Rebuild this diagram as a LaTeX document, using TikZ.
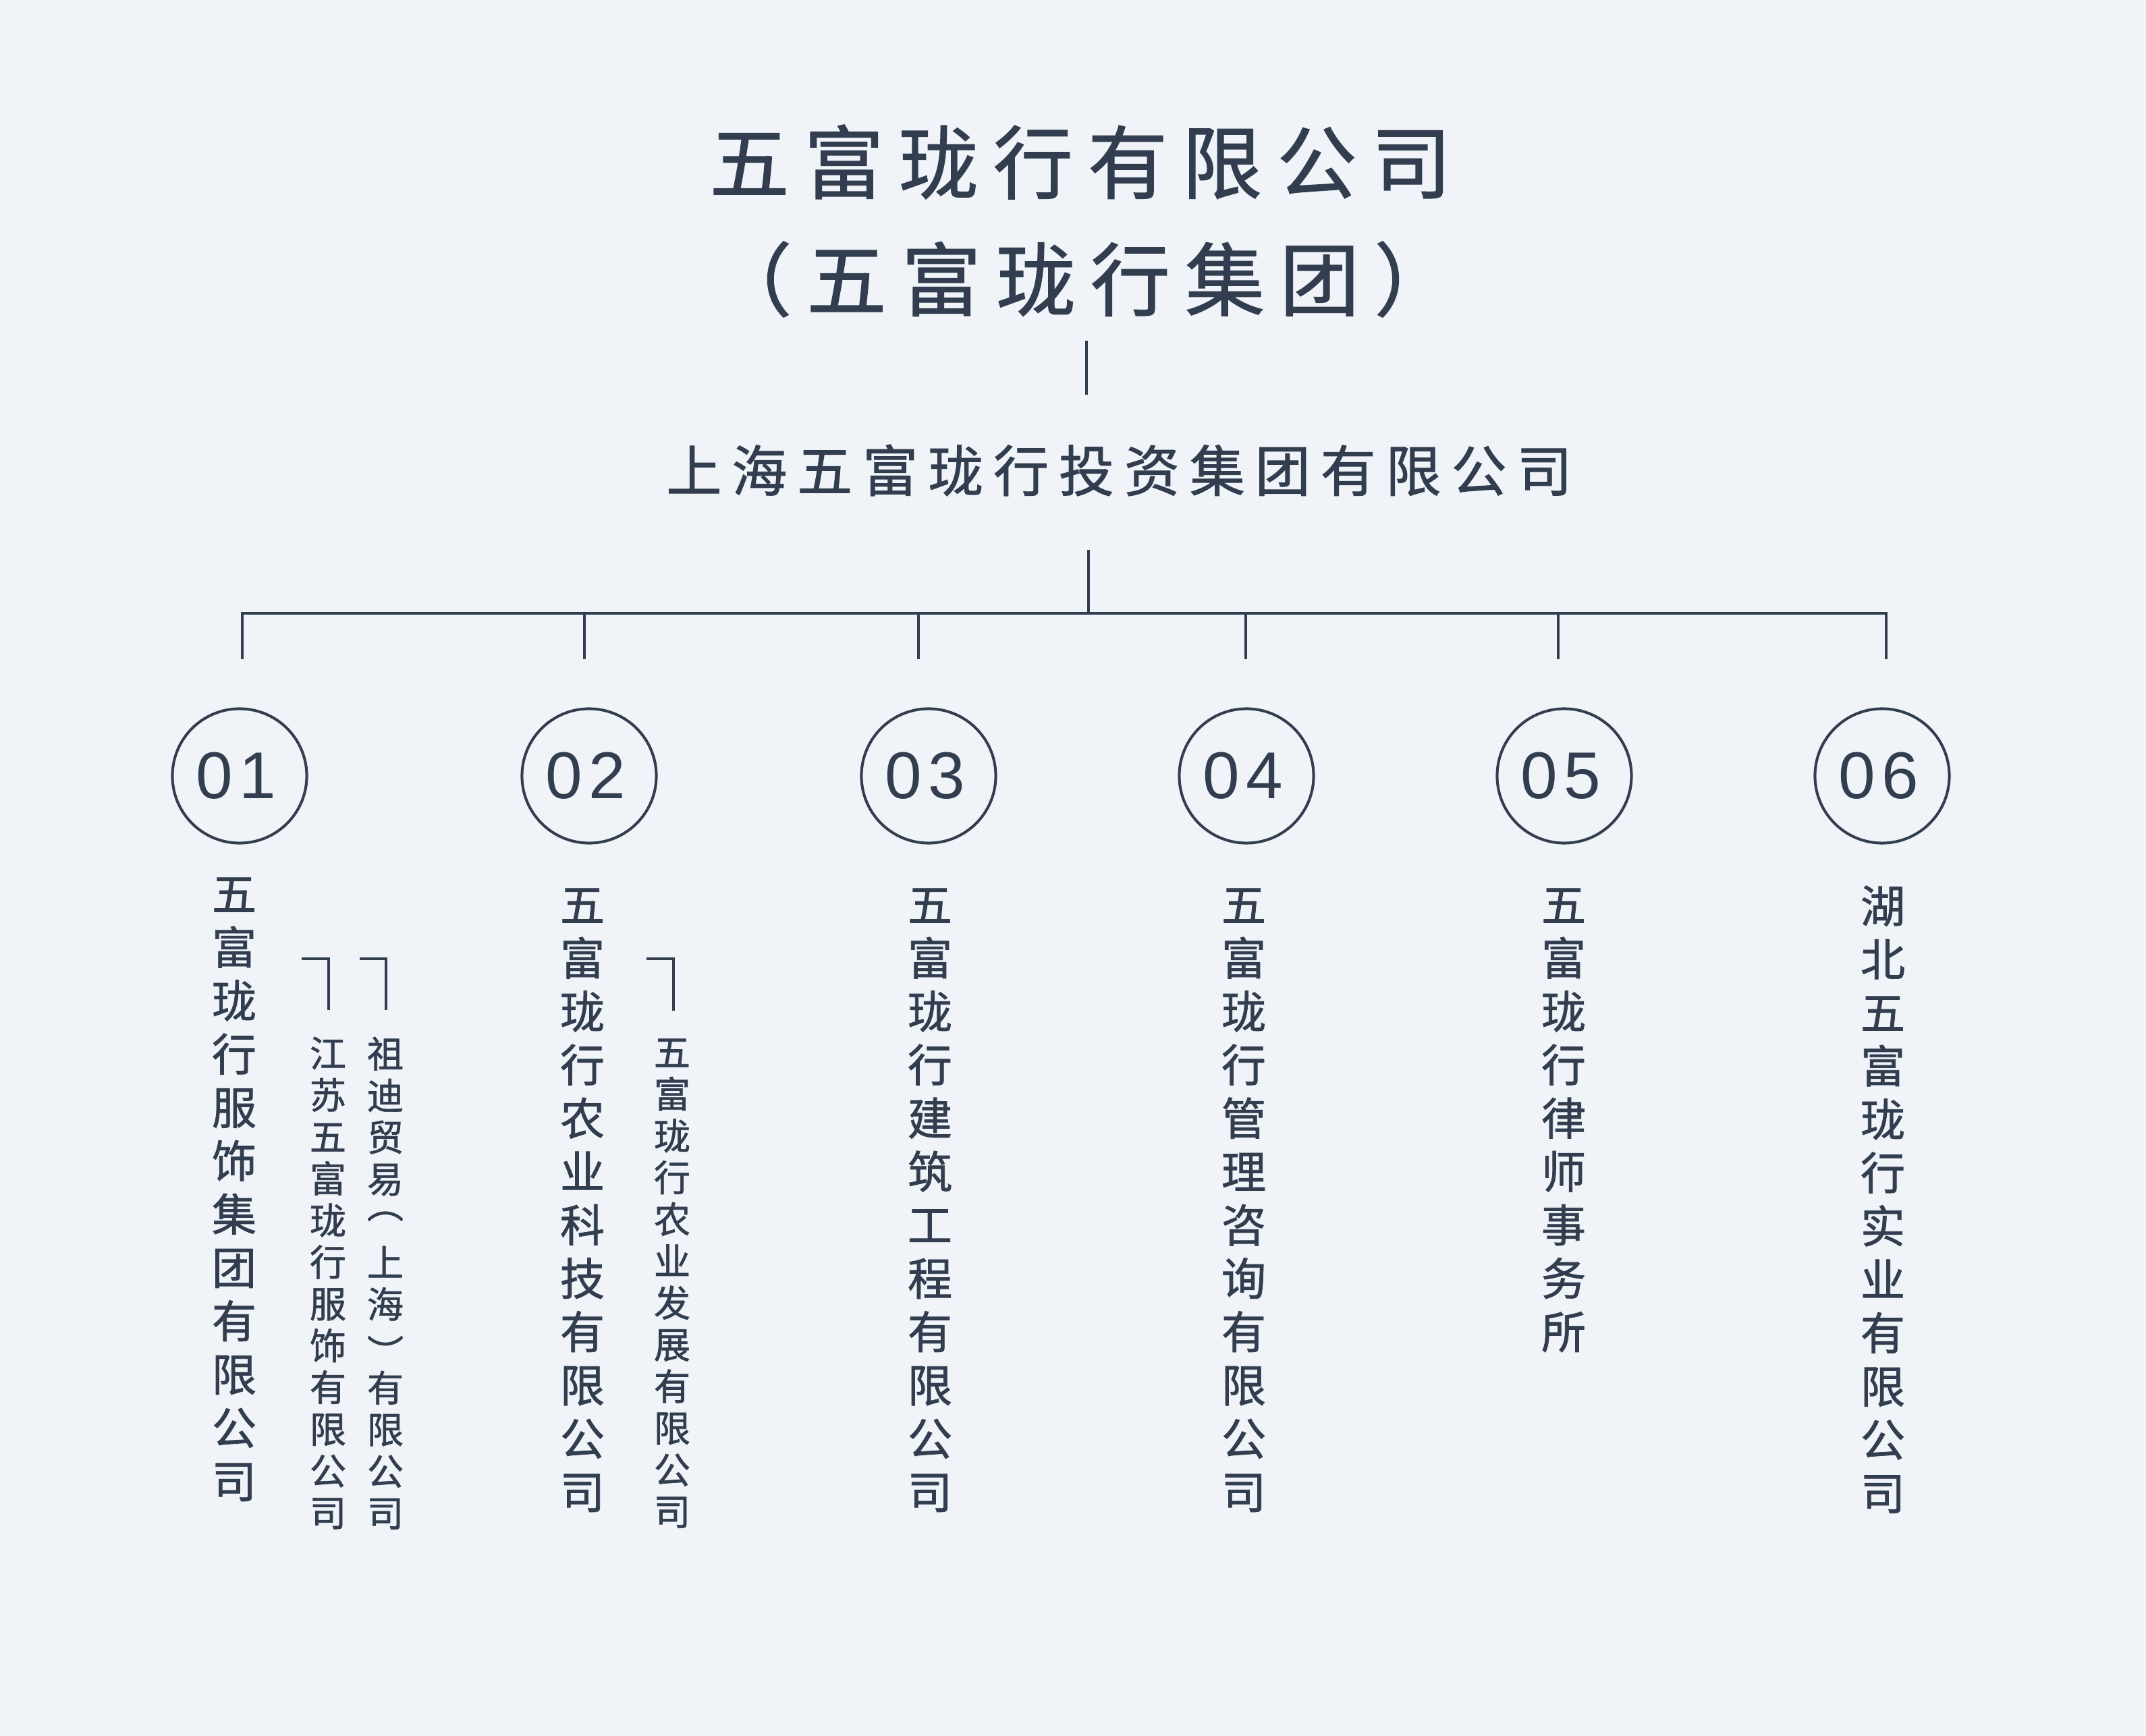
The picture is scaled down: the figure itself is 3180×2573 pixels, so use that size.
\documentclass[tikz,border=0pt]{standalone}
\usepackage{fontspec}
\setmainfont{Noto Sans CJK SC}[FakeBold=1.2]
\newfontfamily\numfont{Liberation Sans}
\usepackage{graphicx}
\usepackage{xcolor}
\usepackage{tikz}
\usetikzlibrary{positioning}

\definecolor{inkblue}{HTML}{323E50}
\definecolor{paper}{HTML}{F0F4F8}

% one pixel of the layout grid
\newdimen\pxu \pxu=0.01cm
% letter-spaced text: \spreadtext{gap}{characters}
\def\spreadgap{0pt}
\newcommand\spreadtext[2]{\def\spreadgap{#1}\spreadloop#2\relax}
\def\spreadloop#1{\ifx\relax#1\else#1\kern\spreadgap\expandafter\spreadloop\fi}
% parentheses turned for top-to-bottom text
\newcommand\vopen{\smash{\raisebox{6.8pt}{\rotatebox[origin=c]{-90}{（}}}}
\newcommand\vclose{\smash{\raisebox{-2.8pt}{\rotatebox[origin=c]{-90}{）}}}}

\tikzset{
  link/.style={draw=inkblue, line width=1.15pt},
  headline/.style={inner sep=0pt, text=inkblue, font=\fontsize{33.6}{40}\selectfont},
  holdline/.style={inner sep=0pt, text=inkblue, font=\fontsize{23.3}{28}\selectfont},
  numcircle/.style={circle, draw=inkblue, line width=1.15pt, minimum size=1.99cm,
    inner sep=0pt, text=inkblue, font=\numfont\fontsize{27.9}{32}\selectfont},
  firmcol/.style={anchor=north, align=center, inner sep=0pt, text=inkblue,
    font=\fontsize{18.8}{22.5}\selectfont},
  subcol/.style={anchor=north, align=center, inner sep=0pt, text=inkblue,
    font=\fontsize{15.4}{17.6}\selectfont},
}

\begin{document}
\begin{tikzpicture}[x=0.01cm, y=-0.01cm]
  \fill[paper] (0,0) rectangle (3180,2573);
  \useasboundingbox (0,0) rectangle (3180,2573);

  % Group titles
  \node[headline] (group) at (1612,240) {\spreadtext{22\pxu}{五富珑行有限公司}};
  \node[headline] (groupalt) at (1616,414) {\spreadtext{22\pxu}{（五富珑行集团）}};
  \node[holdline] (holding) at (1666,697) {\spreadtext{15\pxu}{上海五富珑行投资集团有限公司}};

  % Trunk between group and holding
  \coordinate (trunktop) at (1610,505);
  \coordinate (trunkfoot) at (1610,585);
  \draw[link] (trunktop) -- (trunkfoot);

  % Branch bar
  \coordinate (hub) at (1613,815);
  \coordinate (hubfoot) at (1613,909);
  \draw[link] (hub) -- (hubfoot);
  \foreach \x/\n in {359/1,866/2,1361/3,1846/4,2309/5,2795/6} {
    \coordinate (bar\n) at (\x,909);
    \coordinate (drop\n) at (\x,977);
  }
  \draw[link] (drop1) -- (bar1) -- (bar6) -- (drop6);
  \foreach \n in {2,...,5}
    \draw[link] (bar\n) -- (drop\n);

  % Numbered circles
  \foreach \x/\n in {355/1,873/2,1376/3,1847/4,2318/5,2789/6}
    \node[numcircle] (num\n) at (\x,1150) {\spreadtext{10\pxu}{0\n}};

  % Companies, read top to bottom
  \node[firmcol] (firm1) at (347,1300) {五\\富\\珑\\行\\服\\饰\\集\\团\\有\\限\\公\\司};
  \node[subcol] (firm1a) at (486,1536) {江\\苏\\五\\富\\珑\\行\\服\\饰\\有\\限\\公\\司};
  \node[subcol] (firm1b) at (571,1536) {祖\\迪\\贸\\易\\\vopen\\上\\海\\\vclose\\有\\限\\公\\司};
  \node[firmcol] (firm2) at (863,1316) {五\\富\\珑\\行\\农\\业\\科\\技\\有\\限\\公\\司};
  \node[subcol] (firm2a) at (996,1539) {五\\富\\珑\\行\\农\\业\\发\\展\\有\\限\\公\\司};
  \node[firmcol] (firm3) at (1378,1316) {五\\富\\珑\\行\\建\\筑\\工\\程\\有\\限\\公\\司};
  \node[firmcol] (firm4) at (1843,1316) {五\\富\\珑\\行\\管\\理\\咨\\询\\有\\限\\公\\司};
  \node[firmcol] (firm5) at (2317,1316) {五\\富\\珑\\行\\律\\师\\事\\务\\所};
  \node[firmcol] (firm6) at (2790,1312) {湖\\北\\五\\富\\珑\\行\\实\\业\\有\\限\\公\\司};

  % Hooks over the affiliated companies
  \draw[link] (447,1421) -| (487,1497);
  \draw[link] (533,1421) -| (572,1497);
  \draw[link] (958,1421) -| (998,1498);
\end{tikzpicture}
\end{document}
